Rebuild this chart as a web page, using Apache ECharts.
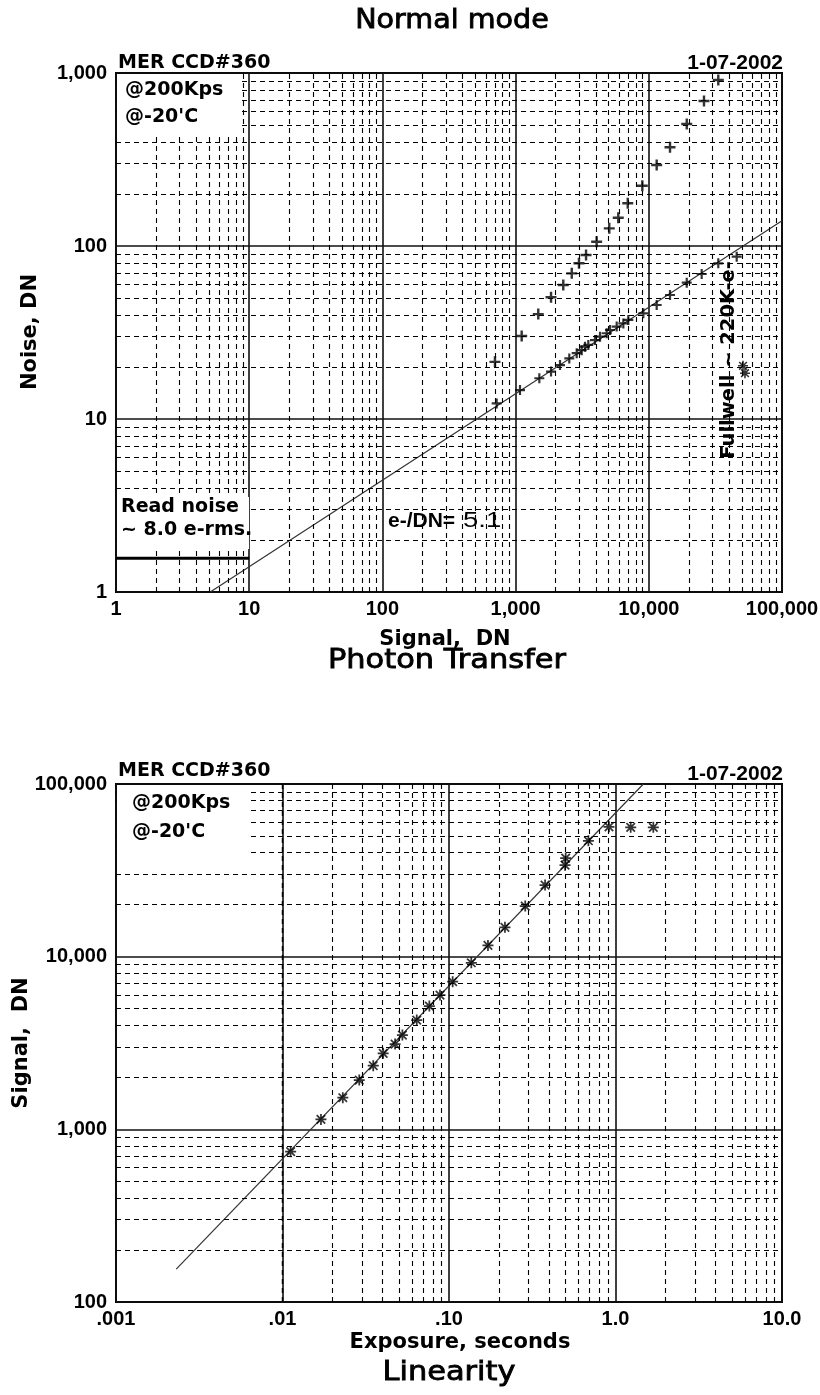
<!DOCTYPE html>
<html>
<head>
<meta charset="utf-8">
<script src="https://cdn.jsdelivr.net/npm/echarts@6/dist/echarts.min.js"></script>
<style>
  html, body { margin: 0; padding: 0; background: #fff; }
  #chart { width: 820px; height: 1395px; }
</style>
</head>
<body>
<div id="chart"></div>
<script>
// ---------- Photon transfer: noise vs signal ----------
const gainElectronsPerDN = 5.1;
const readNoiseElectrons = 8.0;

// shot-noise points (lie on the sqrt line)
const ptSignalShot = [721, 1079, 1507, 1845, 2154, 2530, 2876, 3135, 3320, 3515, 3945, 4305,
                      4830, 5115, 5740, 6440, 7020, 9100, 11460, 14430, 19270, 24950, 33240, 45700];
const ptNoiseShot  = [12.3, 14.7, 17.2, 18.8, 20.5, 22.4, 24.0, 25.0, 26.2, 26.8, 28.6, 29.9,
                      31.3, 32.7, 34.2, 35.7, 37.4, 40.8, 45.6, 52.1, 61.4, 68.9, 79.4, 86.7];
// total noise points (shot + fixed pattern)
const ptSignalTotal = [700, 1111, 1480, 1845, 2280, 2640, 2990, 3380, 4060, 5050, 5900, 6950,
                       8940, 11460, 14430, 19270, 25960, 33240];
const ptNoiseTotal  = [21.4, 30.2, 40.4, 50.5, 59.5, 69.5, 79.4, 88.7, 105.9, 126.5, 145.8, 176.6,
                       223.2, 294, 372, 507, 689, 911];
// saturated points past full well
const ptSignalSat = [50950, 52750];
const ptNoiseSat  = [20.3, 18.4];

const ptXTickLabels = ['1', '10', '100', '1,000', '10,000', '100,000'];
const ptYTickLabels = ['1', '10', '100', '1,000'];

// ---------- Linearity: signal vs exposure ----------
const linExposure = [0.01119, 0.01702, 0.02302, 0.02891, 0.03507, 0.04024, 0.04745, 0.0525, 0.064,
                     0.0762, 0.0883, 0.1052, 0.1361, 0.1714, 0.2168, 0.287, 0.3776, 0.4977, 0.502,
                     0.6874, 0.914, 1.234, 1.687];
const linSignal   = [742, 1142, 1524, 1929, 2335, 2754, 3118, 3516, 4295,
                     5176, 5993, 7160, 9220, 11620, 14790, 19640, 25990, 33890, 37240,
                     46900, 56500, 56100, 56100];
const linFitExposure = [0.0023, 1.47];
const linFitSignal   = [155, 100000];

const linXTickLabels = ['.001', '.01', '.10', '1.0', '10.0'];
const linYTickLabels = ['100', '1,000', '10,000', '100,000'];

// ---------- helpers ----------
const readNoiseDN = readNoiseElectrons / gainElectronsPerDN;
// shot-noise model line: noise = sqrt(signal / gain), from noise = 1 up to the right edge
const ptFitSignal = [gainElectronsPerDN, 100000];
const ptFit = ptFitSignal.map(s => [s, Math.sqrt(s / gainElectronsPerDN)]);

function zip(xs, ys) { return xs.map((x, i) => [x, ys[i]]); }

// minor log grid values 2..9 in every decade between lo and hi
function minorValues(lo, hi) {
  const out = [];
  for (let e = Math.round(Math.log10(lo)); e < Math.round(Math.log10(hi)); e++) {
    for (let m = 2; m <= 9; m++) out.push(+(m * Math.pow(10, e)).toPrecision(3));
  }
  return out;
}

const PLUS = 'path://M3.9,0H6.1V3.9H10V6.1H6.1V10H3.9V6.1H0V3.9H3.9Z';
const STAR = 'path://M4.2,0H5.8V10H4.2Z M0,4.2H10V5.8H0Z M0.6,1.7L1.7,0.6L9.4,8.3L8.3,9.4Z M8.3,0.6L9.4,1.7L1.7,9.4L0.6,8.3Z';

const tickFont = { fontFamily: 'Liberation Sans', fontWeight: 'bold', fontSize: 20, color: '#000' };
const dashStyle = { color: '#000', width: 1.1, type: [5, 4] };

function minorGridSeries(xi, xs, ys) {
  return {
    type: 'line', xAxisIndex: xi, yAxisIndex: xi, data: [], silent: true, z: 1,
    markLine: {
      silent: true, symbol: ['none', 'none'], label: { show: false }, animation: false,
      lineStyle: dashStyle, emphasis: { disabled: true },
      data: xs.map(v => ({ xAxis: v })).concat(ys.map(v => ({ yAxis: v })))
    }
  };
}

function logAxis(gi, min, max, labels, isX) {
  const base = Math.round(Math.log10(min));
  return {
    type: 'log', logBase: 10, gridIndex: gi, min: min, max: max,
    splitNumber: Math.round(Math.log10(max / min)),
    axisLine: { show: false }, axisTick: { show: false },
    splitLine: { show: true, lineStyle: { color: '#111', width: 1.6 } },
    axisLabel: Object.assign({
      margin: isX ? 7 : 9, showMinLabel: true, showMaxLabel: true,
      formatter: v => labels[Math.round(Math.log10(v)) - base]
    }, tickFont)
  };
}

function txt(x, y, text, font, align, extra, weightStroke) {
  const style = { text: text, font: font, fill: '#000', textAlign: align, align: align,
                  textVerticalAlign: 'middle', verticalAlign: 'middle' };
  if (weightStroke) { style.stroke = '#000'; style.lineWidth = weightStroke; }
  return Object.assign({ type: 'text', x: x, y: y, z: 110, silent: true, style: style }, extra || {});
}
function box(x, y, w, h) {
  return { type: 'rect', z: 100, silent: true, shape: { x: x, y: y, width: w, height: h },
           style: { fill: '#fff', stroke: null } };
}

const BOLD = 'bold 19px "DejaVu Sans"';
const ABOLD = 'bold 21px "Liberation Sans"';
const TITLE = '26px "DejaVu Sans"';

const option = {
  animation: false,
  backgroundColor: '#fff',
  grid: [
    { left: 116, top: 73, width: 666, height: 519, show: true, borderColor: '#000', borderWidth: 2,
      backgroundColor: 'transparent', containLabel: false, outerBoundsMode: 'none' },
    { left: 116, top: 784, width: 666, height: 518, show: true, borderColor: '#000', borderWidth: 2,
      backgroundColor: 'transparent', containLabel: false, outerBoundsMode: 'none' }
  ],
  xAxis: [
    logAxis(0, 1, 100000, ptXTickLabels, true),
    logAxis(1, 0.001, 10, linXTickLabels, true)
  ],
  yAxis: [
    logAxis(0, 1, 1000, ptYTickLabels, false),
    logAxis(1, 100, 100000, linYTickLabels, false)
  ],
  series: [
    minorGridSeries(0, minorValues(1, 100000), minorValues(1, 1000)),
    minorGridSeries(1, minorValues(0.001, 10), minorValues(100, 100000)),
    { // shot-noise model line
      type: 'line', xAxisIndex: 0, yAxisIndex: 0, data: ptFit, showSymbol: false, silent: true, z: 3,
      lineStyle: { color: '#333', width: 1.2 }
    },
    { // read noise floor
      type: 'line', xAxisIndex: 0, yAxisIndex: 0, data: [[1, readNoiseDN], [10, readNoiseDN]],
      showSymbol: false, silent: true, z: 3, lineStyle: { color: '#000', width: 3 }
    },
    { type: 'scatter', xAxisIndex: 0, yAxisIndex: 0, data: zip(ptSignalShot, ptNoiseShot),
      symbol: PLUS, symbolSize: 10, itemStyle: { color: '#000' }, z: 4 },
    { type: 'scatter', xAxisIndex: 0, yAxisIndex: 0, data: zip(ptSignalTotal, ptNoiseTotal),
      symbol: PLUS, symbolSize: 11, itemStyle: { color: '#000' }, z: 4 },
    { type: 'scatter', xAxisIndex: 0, yAxisIndex: 0, data: zip(ptSignalSat, ptNoiseSat),
      symbol: STAR, symbolSize: 10, itemStyle: { color: '#000' }, z: 4 },
    { // linear fit
      type: 'line', xAxisIndex: 1, yAxisIndex: 1, data: zip(linFitExposure, linFitSignal),
      showSymbol: false, silent: true, z: 3, lineStyle: { color: '#333', width: 1.2 }
    },
    { type: 'scatter', xAxisIndex: 1, yAxisIndex: 1, data: zip(linExposure, linSignal),
      symbol: STAR, symbolSize: 11, itemStyle: { color: '#000' }, z: 4 }
  ],
  graphic: [
    // label backgrounds
    box(117, 74, 123, 59),
    box(117, 497, 132, 52),
    box(117, 785, 132, 73),

    // photon transfer panel
    txt(452, 21.5, 'Normal mode', TITLE, 'center', { scaleX: 1.1 }, 0.8),
    txt(118, 63.5, 'MER CCD#360', BOLD, 'left'),
    txt(783, 63.5, '1-07-2002', ABOLD, 'right'),
    txt(125, 90, '@200Kps', BOLD, 'left'),
    txt(125, 117, "@-20'C", BOLD, 'left'),
    txt(121, 507.5, 'Read noise', BOLD, 'left'),
    txt(121, 530, '~ 8.0 e-rms.', BOLD, 'left'),
    txt(388, 521, 'e-/DN=', ABOLD, 'left'),
    txt(463, 521, '5.1', '22px "Liberation Sans"', 'left', { scaleX: 1.25 }),
    txt(729, 360, 'Fullwell ~ 220K-e-', 'bold 19.5px "DejaVu Sans"', 'center', { rotation: Math.PI / 2 }),
    txt(445, 640, 'Signal,  DN', 'bold 21px "DejaVu Sans"', 'center'),
    txt(31, 332, 'Noise, DN', 'bold 21px "DejaVu Sans"', 'center', { rotation: Math.PI / 2 }),
    txt(447, 661, 'Photon Transfer', TITLE, 'center', { scaleX: 1.17 }, 0.8),

    // linearity panel
    txt(118, 771.5, 'MER CCD#360', BOLD, 'left'),
    txt(783, 774, '1-07-2002', ABOLD, 'right'),
    txt(132, 803, '@200Kps', BOLD, 'left'),
    txt(132, 832.5, "@-20'C", BOLD, 'left'),
    txt(22, 1043, 'Signal,  DN', 'bold 21px "DejaVu Sans"', 'center', { rotation: Math.PI / 2 }),
    txt(460, 1343, 'Exposure, seconds', 'bold 21px "DejaVu Sans"', 'center'),
    txt(449, 1373, 'Linearity', TITLE, 'center', { scaleX: 1.17 }, 0.8)
  ]
};

const chart = echarts.init(document.getElementById('chart'), null, { renderer: 'canvas' });
chart.setOption(option);
</script>
</body>
</html>
